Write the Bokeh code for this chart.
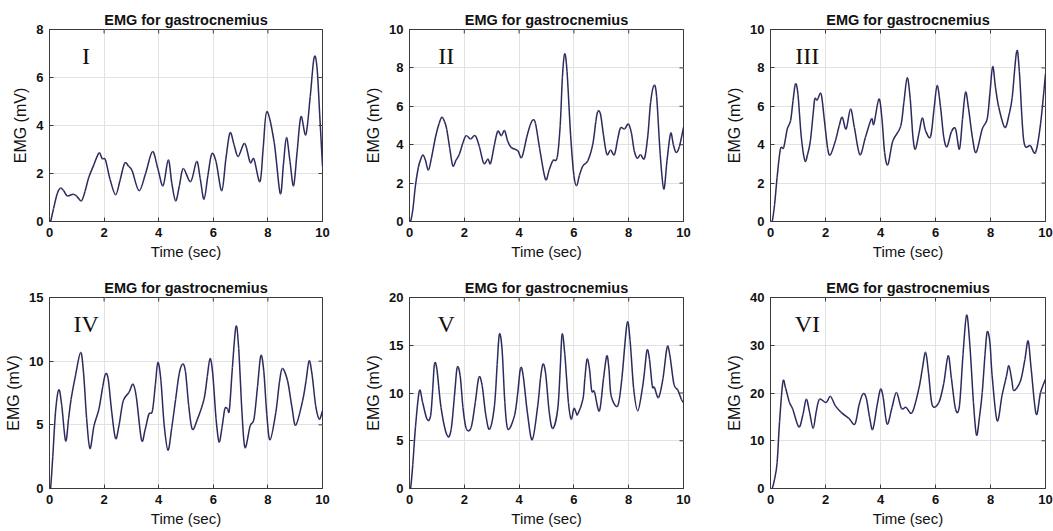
import math
from bokeh.plotting import figure
from bokeh.layouts import column, row
from bokeh.models import Range1d, FixedTicker, Label, ColumnDataSource
from bokeh.embed import file_html
from bokeh.resources import INLINE

TITLE = "EMG for gastrocnemius"
XLABEL = "Time (sec)"
YLABEL = "EMG (mV)"
x_ticks = [0, 2, 4, 6, 8, 10]

panel_tags = ["I", "II", "III", "IV", "V", "VI"]
panel_ymax = [8, 10, 10, 15, 20, 40]
panel_yticks = [[0, 2, 4, 6, 8], [0, 2, 4, 6, 8, 10], [0, 2, 4, 6, 8, 10],
                [0, 5, 10, 15], [0, 5, 10, 15, 20], [0, 10, 20, 30, 40]]

emg1 = [(0.0, 0.0), (0.04, 0.0), (0.15, 0.55), (0.28, 1.15), (0.40, 1.39), (0.52, 1.28), (0.65, 1.07),
        (0.87, 1.14), (1.0, 1.05), (1.17, 0.86), (1.30, 1.25), (1.44, 1.84), (1.62, 2.35), (1.81, 2.85),
        (1.93, 2.62), (2.05, 2.56), (2.22, 1.75), (2.42, 1.11), (2.58, 1.7), (2.75, 2.42), (2.90, 2.3),
        (3.03, 2.11), (3.28, 1.28), (3.52, 2.0), (3.77, 2.91), (3.97, 2.2), (4.16, 1.49), (4.35, 2.56),
        (4.48, 1.6), (4.62, 0.86), (4.76, 1.5), (4.90, 2.21), (5.17, 1.66), (5.39, 2.5), (5.52, 1.8),
        (5.66, 0.93), (5.80, 1.9), (5.94, 2.81), (6.10, 2.5), (6.31, 1.28), (6.46, 2.6), (6.61, 3.69),
        (6.76, 3.2), (6.91, 2.71), (7.15, 3.25), (7.35, 2.46), (7.49, 2.6), (7.71, 1.66), (7.83, 3.1),
        (7.96, 4.58), (8.23, 3.3), (8.45, 1.17), (8.57, 2.4), (8.68, 3.5), (8.81, 2.5), (8.94, 1.49),
        (9.07, 2.9), (9.21, 4.37), (9.39, 3.62), (9.55, 5.2), (9.69, 6.82), (9.80, 6.4), (9.90, 4.4),
        (10.0, 2.3)]

emg2 = [(0.0, 0.0), (0.04, 0.0), (0.12, 0.6), (0.22, 1.9), (0.32, 2.8), (0.40, 3.2), (0.49, 3.46),
        (0.58, 3.2), (0.69, 2.68), (0.80, 3.3), (0.95, 4.4), (1.08, 5.1), (1.18, 5.43), (1.28, 5.2),
        (1.36, 4.8), (1.47, 3.8), (1.58, 2.9), (1.70, 3.2), (1.82, 3.5), (1.95, 4.1), (2.07, 4.47),
        (2.23, 4.3), (2.40, 4.47), (2.55, 3.9), (2.71, 3.03), (2.86, 3.25), (2.96, 3.03), (3.10, 4.0),
        (3.22, 4.7), (3.35, 4.47), (3.47, 4.73), (3.58, 4.2), (3.71, 3.86), (3.95, 3.69), (4.10, 3.34),
        (4.28, 4.4), (4.40, 5.0), (4.50, 5.29), (4.60, 5.1), (4.75, 3.8), (4.96, 2.21), (5.10, 2.7),
        (5.23, 3.17), (5.39, 3.34), (5.50, 5.0), (5.58, 7.5), (5.66, 8.73), (5.75, 7.8), (5.88, 4.5),
        (6.00, 2.4), (6.10, 1.86), (6.20, 2.4), (6.33, 2.9), (6.51, 3.17), (6.69, 4.03), (6.80, 5.2),
        (6.87, 5.72), (6.97, 5.6), (7.08, 4.5), (7.20, 3.51), (7.34, 3.72), (7.48, 3.48), (7.60, 4.3),
        (7.70, 4.87), (7.85, 4.82), (7.99, 5.08), (8.10, 4.6), (8.20, 3.7), (8.31, 3.3), (8.43, 3.48),
        (8.58, 3.3), (8.70, 4.5), (8.80, 6.2), (8.92, 7.08), (9.02, 6.5), (9.15, 3.5), (9.28, 1.69),
        (9.40, 3.2), (9.53, 4.59), (9.63, 4.0), (9.73, 3.6), (9.85, 3.9), (10.0, 4.9)]

emg3 = [(0.0, 0.0), (0.06, 0.0), (0.15, 0.9), (0.24, 2.3), (0.36, 3.77), (0.48, 3.86), (0.61, 4.82),
        (0.73, 5.25), (0.82, 6.3), (0.91, 7.17), (1.0, 6.6), (1.12, 4.4), (1.25, 3.17), (1.35, 3.5),
        (1.45, 4.2), (1.55, 5.6), (1.61, 6.38), (1.70, 6.33), (1.84, 6.64), (1.95, 5.4), (2.08, 3.8),
        (2.18, 3.48), (2.36, 4.2), (2.50, 5.0), (2.61, 5.43), (2.75, 4.82), (2.91, 5.86), (3.05, 4.9),
        (3.25, 3.48), (3.45, 4.38), (3.67, 5.34), (3.76, 5.08), (3.94, 6.38), (4.05, 5.4), (4.15, 3.6),
        (4.27, 2.96), (4.45, 4.2), (4.73, 4.94), (4.85, 6.2), (4.97, 7.48), (5.08, 6.4), (5.18, 4.4),
        (5.27, 3.77), (5.40, 4.6), (5.52, 5.39), (5.64, 4.73), (5.82, 4.42), (5.95, 5.9), (6.06, 7.08),
        (6.18, 6.0), (6.30, 4.4), (6.42, 3.9), (6.58, 4.68), (6.73, 4.82), (6.87, 3.77), (6.98, 5.3),
        (7.09, 6.73), (7.20, 5.9), (7.35, 4.3), (7.48, 3.6), (7.70, 4.82), (7.88, 5.34), (7.98, 6.7),
        (8.08, 8.07), (8.18, 7.0), (8.30, 5.95), (8.52, 4.9), (8.68, 5.6), (8.79, 6.47), (8.95, 8.85),
        (9.05, 7.8), (9.21, 4.2), (9.45, 3.95), (9.64, 3.6), (9.82, 5.08), (10.0, 7.69)]

emg4 = [(0.0, 0.0), (0.04, 0.0), (0.12, 2.5), (0.22, 6.0), (0.34, 7.75), (0.45, 6.5), (0.59, 3.74),
        (0.70, 5.5), (0.79, 7.0), (0.95, 8.85), (1.14, 10.68), (1.25, 9.0), (1.36, 5.5), (1.48, 3.14),
        (1.63, 4.92), (1.81, 6.23), (1.95, 8.0), (2.05, 8.98), (2.15, 8.6), (2.28, 6.0), (2.42, 3.93),
        (2.55, 5.0), (2.70, 6.88), (2.91, 7.54), (3.06, 8.19), (3.18, 7.2), (3.37, 3.82), (3.50, 4.6),
        (3.64, 5.84), (3.77, 6.1), (3.88, 8.2), (3.97, 9.9), (4.08, 8.5), (4.20, 5.0), (4.34, 3.01),
        (4.48, 4.8), (4.62, 7.0), (4.75, 9.0), (4.87, 9.76), (4.98, 9.2), (5.10, 6.5), (5.23, 4.66),
        (5.42, 5.45), (5.66, 7.02), (5.78, 8.8), (5.88, 10.2), (5.98, 9.0), (6.10, 5.5), (6.21, 3.66),
        (6.32, 4.8), (6.42, 6.23), (6.52, 6.28), (6.59, 6.18), (6.70, 9.5), (6.83, 12.72), (6.93, 11.0),
        (7.05, 6.0), (7.16, 3.22), (7.35, 4.92), (7.49, 5.45), (7.62, 8.0), (7.74, 10.42), (7.85, 9.2),
        (7.96, 5.8), (8.08, 3.82), (8.29, 5.97), (8.42, 8.3), (8.53, 9.42), (8.72, 8.46), (8.88, 6.4),
        (9.02, 4.97), (9.27, 6.88), (9.40, 8.5), (9.51, 10.03), (9.62, 8.9), (9.75, 6.5), (9.88, 5.45),
        (10.0, 6.1)]

emg5 = [(0.0, 0.0), (0.04, 0.0), (0.12, 2.5), (0.22, 6.5), (0.36, 10.23), (0.48, 9.0), (0.64, 7.26),
        (0.77, 7.6), (0.85, 10.5), (0.91, 13.0), (1.0, 12.5), (1.15, 8.5), (1.37, 5.58), (1.52, 6.2),
        (1.65, 10.0), (1.74, 12.67), (1.85, 11.8), (1.95, 8.5), (2.07, 6.28), (2.25, 6.39), (2.40, 9.0),
        (2.53, 11.62), (2.65, 10.8), (2.78, 7.8), (2.92, 6.21), (3.10, 8.66), (3.20, 13.0), (3.28, 16.16),
        (3.38, 14.5), (3.48, 9.0), (3.59, 6.21), (3.83, 7.61), (3.95, 10.0), (4.05, 12.57), (4.15, 11.8),
        (4.30, 8.0), (4.48, 5.1), (4.68, 8.66), (4.78, 11.5), (4.87, 13.02), (4.97, 12.0), (5.10, 8.0),
        (5.23, 6.28), (5.41, 8.31), (5.50, 12.5), (5.57, 16.16), (5.67, 14.0), (5.80, 9.0), (5.90, 7.26),
        (6.00, 8.38), (6.08, 7.96), (6.14, 7.78), (6.33, 9.35), (6.40, 11.5), (6.48, 13.54), (6.57, 12.5),
        (6.65, 10.23), (6.75, 10.12), (6.93, 8.13), (7.08, 11.5), (7.20, 13.89), (7.28, 12.5), (7.36, 9.7),
        (7.60, 8.66), (7.75, 11.5), (7.94, 17.28), (8.05, 15.5), (8.18, 10.5), (8.33, 8.13), (8.50, 10.5),
        (8.58, 12.32), (8.67, 14.49), (8.76, 13.5), (8.86, 10.75), (8.94, 10.58), (9.09, 9.53), (9.25, 11.5),
        (9.40, 14.76), (9.50, 14.0), (9.65, 10.93), (9.79, 10.33), (9.92, 9.35), (10.0, 9.0)]

emg6 = [(0.0, 0.0), (0.06, 0.0), (0.15, 2.0), (0.24, 5.4), (0.33, 14.0), (0.45, 22.3), (0.55, 21.0),
        (0.69, 18.0), (0.81, 16.6), (1.03, 12.9), (1.18, 15.5), (1.30, 18.7), (1.42, 16.0), (1.55, 12.6),
        (1.66, 16.0), (1.78, 18.7), (2.02, 18.0), (2.18, 19.3), (2.36, 17.3), (2.58, 15.9), (2.85, 14.7),
        (3.07, 13.5), (3.22, 17.5), (3.36, 19.8), (3.48, 19.0), (3.60, 15.0), (3.72, 12.4), (3.88, 17.5),
        (4.00, 20.8), (4.10, 19.0), (4.24, 13.5), (4.42, 17.0), (4.58, 20.1), (4.76, 16.8), (4.93, 17.0),
        (5.15, 15.9), (5.39, 20.8), (5.52, 25.0), (5.64, 28.5), (5.75, 24.0), (5.88, 17.5), (6.12, 18.0),
        (6.30, 22.0), (6.46, 27.8), (6.58, 23.0), (6.73, 16.6), (6.87, 17.3), (7.00, 28.0), (7.13, 36.3),
        (7.25, 30.0), (7.38, 18.0), (7.49, 11.2), (7.60, 15.0), (7.70, 20.1), (7.80, 28.0), (7.88, 32.8),
        (7.98, 30.5), (8.06, 23.6), (8.24, 14.2), (8.42, 19.5), (8.58, 23.5), (8.67, 25.7), (8.78, 22.5),
        (8.85, 20.5), (9.09, 22.5), (9.25, 27.0), (9.37, 30.9), (9.48, 25.0), (9.66, 15.6), (9.82, 20.1),
        (10.0, 22.9)]

series = [emg1, emg2, emg3, emg4, emg5, emg6]

# layout (pixels)
col_w = [351, 351, 351]
col_bl = [49, 58, 68]
col_br = [29, 19, 8]
row_h = [265, 266]
row_bt = [29, 32]
row_bb = [44, 43]

LINE = "#2b2b5e"
FONT = "Liberation Sans"
AXC = "#3a3a3a"


def smooth_source(pts):
    """Catmull-Rom segments through the read points, drawn as Bokeh bezier glyphs."""
    n = len(pts)
    d = dict(x0=[], y0=[], x1=[], y1=[], cx0=[], cy0=[], cx1=[], cy1=[])
    for k in range(n - 1):
        p0 = pts[k - 1] if k > 0 else pts[k]
        p1 = pts[k]
        p2 = pts[k + 1]
        p3 = pts[k + 2] if k + 2 < n else pts[k + 1]
        d["x0"].append(p1[0]); d["y0"].append(p1[1])
        d["x1"].append(p2[0]); d["y1"].append(p2[1])
        d["cx0"].append(p1[0] + (p2[0] - p0[0]) / 6.0)
        d["cy0"].append(p1[1] + (p2[1] - p0[1]) / 6.0)
        d["cx1"].append(p2[0] - (p3[0] - p1[0]) / 6.0)
        d["cy1"].append(p2[1] - (p3[1] - p1[1]) / 6.0)
    return ColumnDataSource(d)


figs = []
for i in range(6):
    r, c = divmod(i, 3)
    ymax = panel_ymax[i]
    p = figure(width=col_w[c], height=row_h[r], output_backend="svg", toolbar_location=None,
               x_range=Range1d(0, 10), y_range=Range1d(0, ymax),
               min_border_left=col_bl[c], min_border_right=col_br[c],
               min_border_top=row_bt[r], min_border_bottom=row_bb[r],
               title=TITLE)
    p.title.align = "center"
    p.title.text_font = FONT
    p.title.text_font_size = "14.5px"
    p.title.text_font_style = "bold"
    p.title.text_color = "#111111"
    p.title.standoff = 4
    p.title.offset = 0
    p.background_fill_color = "white"
    p.border_fill_color = "white"
    p.outline_line_color = AXC
    p.outline_line_width = 1

    p.grid.grid_line_color = "#e2e2e2"
    p.grid.grid_line_width = 1

    src = smooth_source(series[i])
    p.bezier(x0="x0", y0="y0", x1="x1", y1="y1", cx0="cx0", cy0="cy0", cx1="cx1", cy1="cy1",
             source=src, line_color=LINE, line_width=1.5)

    # inward box ticks on the top and right edges (at the same tick values)
    p.scatter(x=x_ticks, y=[ymax] * len(x_ticks), marker="dash", angle=math.pi / 2,
              size=8, line_color=AXC, line_width=1)
    p.scatter(x=[10] * len(panel_yticks[i]), y=panel_yticks[i], marker="dash",
              size=8, line_color=AXC, line_width=1)

    p.xaxis.ticker = FixedTicker(ticks=x_ticks)
    p.yaxis.ticker = FixedTicker(ticks=panel_yticks[i])
    p.xaxis.axis_label = XLABEL
    p.yaxis.axis_label = YLABEL
    for ax in (p.xaxis, p.yaxis):
        ax.axis_label_text_font = FONT
        ax.axis_label_text_font_style = "normal"
        ax.axis_label_text_color = "#111111"
        ax.major_label_text_font = FONT
        ax.major_label_text_font_size = "13px"
        ax.major_label_text_font_style = "bold"
        ax.major_label_text_color = "#111111"
        ax.major_tick_in = 4
        ax.major_tick_out = 0
        ax.minor_tick_line_color = None
        ax.major_tick_line_color = AXC
        ax.axis_line_color = AXC
    p.xaxis.axis_label_text_font_size = "15px"
    p.yaxis.axis_label_text_font_size = "16px"
    p.xaxis.major_label_standoff = 6
    p.yaxis.major_label_standoff = 6
    p.xaxis.axis_label_standoff = 3
    p.yaxis.axis_label_standoff = 4

    p.add_layout(Label(x=1.34, y=0.86 * ymax, text=panel_tags[i],
                       text_align="center", text_baseline="middle",
                       text_font="Liberation Serif", text_font_size="24px",
                       text_color="#111111"))
    figs.append(p)

layout = column(row(*figs[:3]), row(*figs[3:]))
open("out.html", "w").write(file_html(layout, INLINE))
